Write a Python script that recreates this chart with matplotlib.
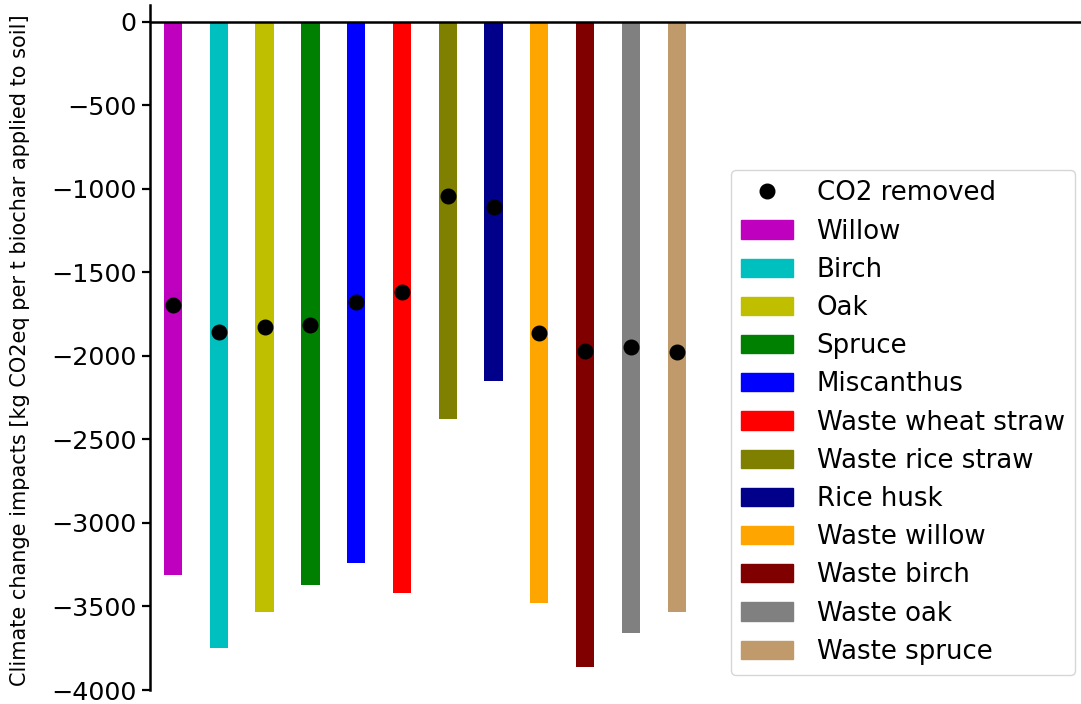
import matplotlib.pyplot as plt
from matplotlib.lines import Line2D
from matplotlib.patches import Patch

feedstocks = ['Willow', 'Birch', 'Oak', 'Spruce', 'Miscanthus', 'Waste wheat straw',
              'Waste rice straw', 'Rice husk', 'Waste willow', 'Waste birch',
              'Waste oak', 'Waste spruce']
impacts = [-3310, -3750, -3535, -3370, -3240, -3420, -2375, -2150, -3480, -3860, -3660, -3535]
co2_removed = [-1695, -1860, -1825, -1815, -1677, -1617, -1045, -1112, -1862, -1970, -1946, -1976]
colors = ['m', 'c', 'y', 'g', 'b', 'r', 'olive', 'darkblue', 'orange', 'maroon',
          'grey', '#c19a6b']

W, H = 1081, 704
fig = plt.figure(figsize=(W / 100, H / 100), dpi=100)
ax = fig.add_axes([150 / W, 14 / H, (W - 150) / W, (690 - 5) / H])

x = list(range(len(feedstocks)))
ax.bar(x, impacts, width=0.4, color=colors)
ax.plot(x, co2_removed, 'o', color='black', markersize=10.5, linestyle='none')
ax.axhline(0, color='black', linewidth=1.8)

ax.set_xlim(-0.502, 19.83)
ax.set_ylim(-4000, 100)
ax.set_xticks([])
ax.spines['right'].set_visible(False)
ax.spines['top'].set_visible(False)
ax.spines['bottom'].set_visible(False)
ax.spines['left'].set_linewidth(1.8)
ax.spines['left'].set_bounds(-4000, 100)
ax.tick_params(axis='y', labelsize=18.3, width=1.6, length=6)
ax.set_ylabel('Climate change impacts [kg CO2eq per t biochar applied to soil]', fontsize=15.0)
ax.yaxis.set_label_coords(-0.129, 0.496)

handles = [Line2D([], [], marker='o', color='black', linestyle='none', markersize=10.5)]
handles += [Patch(color=c) for c in colors]
labels = ['CO2 removed'] + feedstocks
fig.legend(handles, labels, loc='upper right', bbox_to_anchor=(1075 / W, 1 - 170 / H),
           borderaxespad=0, fontsize=18.7, handlelength=2.0, handletextpad=0.9,
           labelspacing=0.47)

fig.savefig('out.png', dpi=100)
